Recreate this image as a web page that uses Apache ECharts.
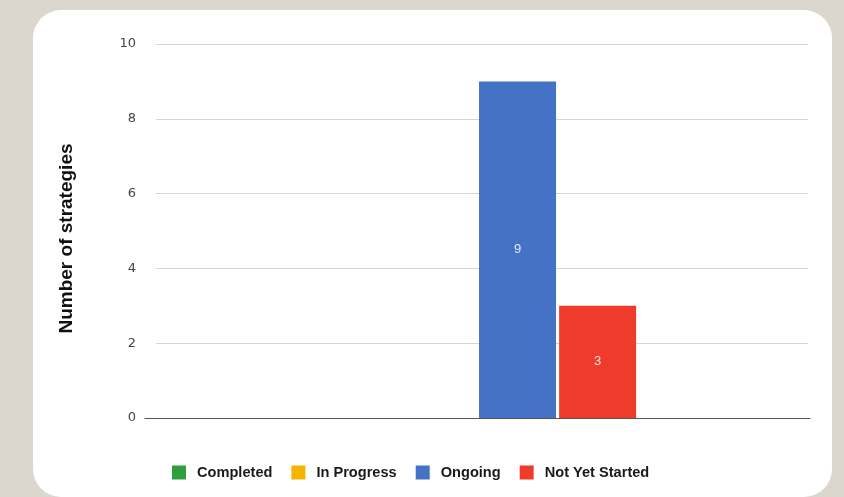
<!DOCTYPE html>
<html><head><meta charset="utf-8">
<script src="https://cdn.jsdelivr.net/npm/echarts@6/dist/echarts.min.js"></script>
<style>html,body{margin:0;padding:0;background:#dbd7ce;}#c{width:844px;height:497px;}</style>
</head><body><div id="c"></div>
<script>
const categories = ['Status'];
const seriesNames = ['Completed', 'In Progress', 'Ongoing', 'Not Yet Started'];
const completed = [0];
const inProgress = [0];
const ongoing = [9];
const notYetStarted = [3];
const yTicks = [0, 2, 4, 6, 8, 10];
const colors = ['#2f9e3f', '#f4b400', '#4472c4', '#ee3b2b'];
const values = [completed, inProgress, ongoing, notYetStarted];

const yMin = yTicks[0], yMax = yTicks[yTicks.length - 1];
const chart = echarts.init(document.getElementById('c'));
chart.setOption({
  backgroundColor: '#dbd7ce',
  animation: false,
  graphic: [{
    type: 'rect', z: -10, silent: true,
    shape: {x: 33, y: 10, width: 799, height: 487, r: 28},
    style: {fill: '#ffffff'}
  }],
  grid: [
    {left: 156, right: 36, top: 44, bottom: 79},
    {left: 145, right: 34, top: 44, bottom: 79}
  ],
  legend: {
    left: 167, top: 460, itemWidth: 14, itemHeight: 14, itemGap: 19,
    icon: 'rect',
    textStyle: {fontFamily: 'Liberation Sans, Arial', fontWeight: 'bold', fontSize: 14.6, color: '#1a1a1a', padding: [0, 0, 0, 6]},
    data: seriesNames
  },
  xAxis: [{
    gridIndex: 0, type: 'category', data: categories,
    axisLine: {show: false}, axisTick: {show: false}, axisLabel: {show: false}
  }, {
    gridIndex: 1, type: 'category', data: categories,
    axisLine: {lineStyle: {color: '#555', width: 1}},
    axisTick: {show: false}, axisLabel: {show: false}
  }],
  yAxis: [{
    gridIndex: 0, type: 'value', min: yMin, max: yMax, interval: 2,
    name: 'Number of strategies', nameLocation: 'middle', nameGap: 80,
    nameTextStyle: {fontFamily: 'Liberation Sans, Arial', fontWeight: 'bold', fontSize: 19, color: '#111', padding: [0, 15, 0, 0]},
    axisLine: {show: false}, axisTick: {show: false},
    axisLabel: {margin: 20, fontFamily: 'DejaVu Sans, Liberation Sans', fontSize: 13, color: '#444'},
    splitLine: {lineStyle: {color: '#d8d4d0', width: 1}}
  }, {
    gridIndex: 1, type: 'value', min: yMin, max: yMax, interval: 2,
    axisLine: {show: false}, axisTick: {show: false}, axisLabel: {show: false}, splitLine: {show: false}
  }],
  series: seriesNames.map((n, i) => ({
    name: n, type: 'bar', data: values[i], xAxisIndex: 1, yAxisIndex: 1,
    barWidth: 77, barGap: '4%',
    itemStyle: {color: colors[i]},
    label: {
      show: true, position: 'inside', color: 'rgba(255,255,255,0.85)', fontSize: 13,
      fontFamily: 'Liberation Sans, Arial',
      formatter: p => p.value === 0 ? '' : String(p.value)
    }
  }))
});
</script></body></html>
